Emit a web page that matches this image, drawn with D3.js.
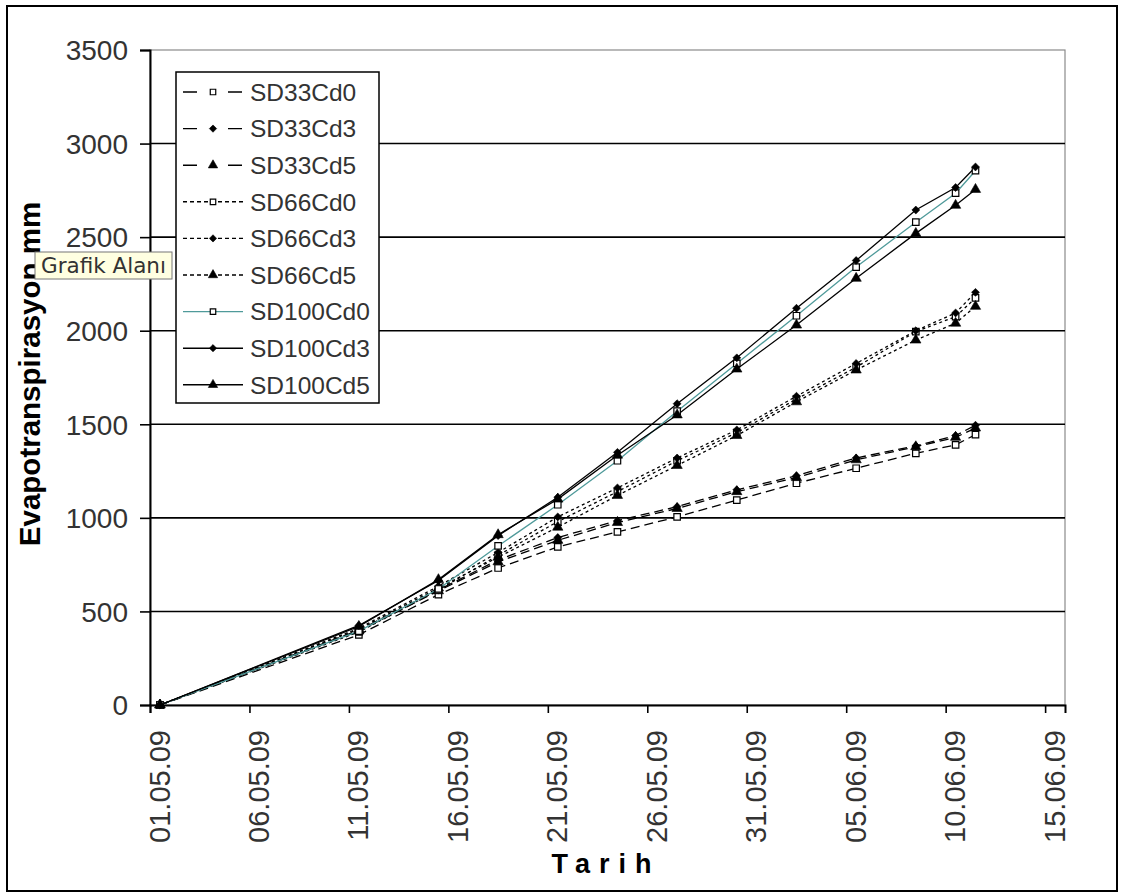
<!DOCTYPE html>
<html>
<head>
<meta charset="utf-8">
<script src="https://cdn.jsdelivr.net/npm/d3@7"></script>
<style>
  html, body { margin: 0; padding: 0; background: #fff; }
  svg { display: block; }
</style>
</head>
<body>
<svg id="chart" width="1124" height="893"></svg>
<script>
// ---- data ----
const dates = ["01.05.09","11.05.09","15.05.09","18.05.09","21.05.09","24.05.09","27.05.09","30.05.09","02.06.09","05.06.09","08.06.09","10.06.09","11.06.09"];
const tickLabels = ["01.05.09","06.05.09","11.05.09","16.05.09","21.05.09","26.05.09","31.05.09","05.06.09","10.06.09","15.06.09"];
const yTicks = [0, 500, 1000, 1500, 2000, 2500, 3000, 3500];
const seriesNames = ["SD33Cd0","SD33Cd3","SD33Cd5","SD66Cd0","SD66Cd3","SD66Cd5","SD100Cd0","SD100Cd3","SD100Cd5"];
const SD33Cd0  = [0, 375, 590, 732, 845, 925, 1005, 1095, 1185, 1265, 1345, 1390, 1445];
const SD33Cd3  = [0, 400, 615, 775, 895, 985, 1060, 1150, 1225, 1320, 1385, 1440, 1495];
const SD33Cd5  = [0, 395, 610, 765, 880, 975, 1050, 1140, 1215, 1310, 1380, 1430, 1480];
const SD66Cd0  = [0, 390, 615, 800, 980, 1140, 1305, 1455, 1635, 1805, 1995, 2075, 2175];
const SD66Cd3  = [0, 410, 635, 815, 1005, 1160, 1320, 1470, 1650, 1825, 2000, 2095, 2205];
const SD66Cd5  = [0, 405, 625, 790, 950, 1120, 1280, 1440, 1620, 1790, 1950, 2040, 2130];
const SD100Cd0 = [0, 395, 620, 850, 1070, 1305, 1570, 1825, 2080, 2340, 2580, 2735, 2855];
const SD100Cd3 = [0, 425, 665, 905, 1110, 1350, 1610, 1855, 2120, 2375, 2645, 2765, 2875];
const SD100Cd5 = [0, 420, 670, 910, 1100, 1335, 1550, 1795, 2030, 2280, 2520, 2670, 2755];
const seriesValues = [SD33Cd0, SD33Cd3, SD33Cd5, SD66Cd0, SD66Cd3, SD66Cd5, SD100Cd0, SD100Cd3, SD100Cd5];
const xTitle = "Tarih";
const yTitle = "Evapotranspirasyon mm";
const tooltipText = "Grafik Alanı";

// ---- styles per series ----
const markerOf = n => n.endsWith("Cd0") ? "square" : (n.endsWith("Cd3") ? "diamond" : "triangle");
const dashOf = n => n.startsWith("SD33") ? "9,5" : (n.startsWith("SD66") ? "3,3" : null);
const legendDashOf = n => n.startsWith("SD33") ? "14,31" : (n.startsWith("SD66") ? "4,3" : null);
const colorOf = n => n === "SD100Cd0" ? "#4f9a9a" : "#000";

const parse = d3.utcParse("%d.%m.%y");
const fmt = d3.utcFormat("%d.%m.%y");
const svg = d3.select("#chart");

// outer frame
svg.append("rect").attr("x", 7).attr("y", 6).attr("width", 1110).attr("height", 885)
  .attr("fill", "#fff").attr("stroke", "#000").attr("stroke-width", 2);

const L = 150, R = 1065, T = 50, B = 705;
const x = d3.scaleUtc().domain([parse("01.05.09"), parse("16.06.09")]).range([L, R]);
const y = d3.scaleLinear().domain([0, 3500]).range([B, T]);

// plot border (gray)
svg.append("rect").attr("x", L).attr("y", T).attr("width", R - L).attr("height", B - T)
  .attr("fill", "none").attr("stroke", "#8a8a8a").attr("stroke-width", 1.2);

// gridlines
svg.append("g").selectAll("line").data(yTicks.filter(v => v > 0 && v < 3500)).join("line")
  .attr("x1", L).attr("x2", R).attr("y1", d => y(d)).attr("y2", d => y(d))
  .attr("stroke", "#000").attr("stroke-width", 1.6);

// y axis
const yAxis = svg.append("g").attr("transform", `translate(${L},0)`)
  .call(d3.axisLeft(y).tickValues(yTicks).tickSize(10).tickPadding(12).tickFormat(d3.format("d")));
yAxis.select(".domain").attr("stroke", "#000").attr("stroke-width", 2);
yAxis.selectAll(".tick line").attr("stroke", "#000").attr("stroke-width", 1.6);
yAxis.selectAll(".tick text").attr("font-family", "Arial, 'Liberation Sans', sans-serif")
  .attr("font-size", 28).attr("fill", "#333").attr("dy", "0.35em");

// x axis
const xAxis = svg.append("g").attr("transform", `translate(0,${B})`)
  .call(d3.axisBottom(x).tickValues(tickLabels.map(parse)).tickSize(8).tickFormat(fmt));
xAxis.select(".domain").attr("stroke", "#000").attr("stroke-width", 2);
xAxis.selectAll(".tick line").attr("stroke", "#000").attr("stroke-width", 1.6);
xAxis.selectAll(".tick text")
  .attr("font-family", "Arial, 'Liberation Sans', sans-serif").attr("font-size", 29).attr("fill", "#333")
  .attr("text-anchor", "end").attr("dy", null).attr("y", 0)
  .attr("transform", "translate(19,25) rotate(-90)");

// series
const pts = dates.map(s => d3.utcHour.offset(parse(s), 12));
const line = d3.line().x((d, i) => x(pts[i])).y(d => y(d));
const sym = {
  square: d3.symbol().type(d3.symbolSquare).size(42),
  diamond: d3.symbol().type(d3.symbolDiamond2).size(40),
  triangle: d3.symbol().type(d3.symbolTriangle).size(46)
};
const gS = svg.append("g");
seriesNames.forEach((n, k) => {
  gS.append("path").datum(seriesValues[k]).attr("d", line)
    .attr("fill", "none").attr("stroke", colorOf(n)).attr("stroke-width", 1.3)
    .attr("stroke-dasharray", dashOf(n));
});
seriesNames.forEach((n, k) => {
  const m = markerOf(n);
  gS.append("g").selectAll("path").data(seriesValues[k]).join("path")
    .attr("transform", (d, i) => `translate(${x(pts[i])},${y(d)})`)
    .attr("d", sym[m]())
    .attr("fill", m === "square" ? "#fff" : "#000")
    .attr("stroke", "#000").attr("stroke-width", m === "square" ? 1.2 : 0.6);
});

// legend
const lg = svg.append("g");
lg.append("rect").attr("x", 176).attr("y", 72).attr("width", 203).attr("height", 331)
  .attr("fill", "#fff").attr("stroke", "#000").attr("stroke-width", 1.5);
const legSym = {
  square: d3.symbol().type(d3.symbolSquare).size(30),
  diamond: d3.symbol().type(d3.symbolDiamond2).size(34),
  triangle: d3.symbol().type(d3.symbolTriangle).size(38)
};
seriesNames.forEach((n, k) => {
  const cy = 92 + k * 36.6;
  const m = markerOf(n);
  lg.append("line").attr("x1", 183).attr("x2", 243).attr("y1", cy).attr("y2", cy)
    .attr("stroke", colorOf(n)).attr("stroke-width", 1.4).attr("stroke-dasharray", legendDashOf(n));
  lg.append("path").attr("transform", `translate(213,${cy})`).attr("d", legSym[m]())
    .attr("fill", m === "square" ? "#fff" : "#000").attr("stroke", "#000")
    .attr("stroke-width", m === "square" ? 1.2 : 0.6);
  lg.append("text").attr("x", 250).attr("y", cy).attr("dy", "0.36em")
    .attr("font-family", "Arial, 'Liberation Sans', sans-serif").attr("font-size", 24.5)
    .attr("fill", "#333").text(n);
});

// axis titles
svg.append("text").attr("x", 606).attr("y", 873).attr("text-anchor", "middle")
  .attr("font-family", "Arial, 'Liberation Sans', sans-serif").attr("font-weight", "bold")
  .attr("font-size", 27).attr("letter-spacing", 9).attr("fill", "#000").text(xTitle);
svg.append("text").attr("transform", "translate(40,374) rotate(-90)").attr("text-anchor", "middle")
  .attr("font-family", "Arial, 'Liberation Sans', sans-serif").attr("font-weight", "bold")
  .attr("font-size", 29.5).attr("fill", "#000").text(yTitle);

// tooltip
const tt = svg.append("g");
tt.append("rect").attr("x", 35).attr("y", 252).attr("width", 137).attr("height", 27)
  .attr("fill", "#ffffe1").attr("stroke", "#777").attr("stroke-width", 1);
tt.append("text").attr("x", 41).attr("y", 273).attr("font-family", "'DejaVu Sans', sans-serif")
  .attr("font-size", 21.5).attr("fill", "#333").text(tooltipText);
</script>
</body>
</html>
